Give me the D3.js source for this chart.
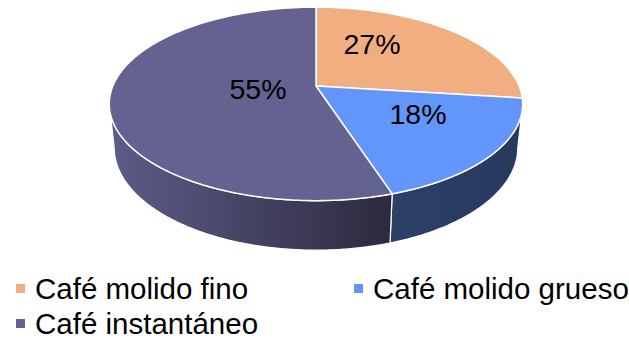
<!DOCTYPE html>
<html><head><meta charset="utf-8">
<script src="https://cdn.jsdelivr.net/npm/d3@7"></script>
<style>
html,body{margin:0;padding:0;background:#fff;}
svg{display:block;}
text{font-family:"Liberation Sans",Arial,sans-serif;fill:#000;}
</style></head>
<body>
<svg id="chart" width="629" height="340"></svg>
<script>
// ---- data ----
const categories = ["Café molido fino", "Café molido grueso", "Café instantáneo"];
const values = [27, 18, 55];
const labels = ["27%", "18%", "55%"];
const topColors = ["#F1AE80", "#6296FA", "#636291"];
const sideColorsLight = ["#C48A63", "#2C4068", "#5E5C89"];
const sideColorsDark = ["#9E6E4E", "#28395F", "#2C2A3E"];

// ---- layout ----
const W = 629, H = 340;
const svg = d3.select("#chart");
const cx = 316, cy = 86;
const elev = Math.asin(0.46);
const sn = Math.sin(elev), cs = Math.cos(elev);
const Dist = 4.8, focal = 975, thick = 0.245;

function proj(a, r, yw) {
  const x = r * Math.sin(a), z = -r * Math.cos(a), y = yw;
  const depth = Dist - y * sn - z * cs;
  return [cx + focal * x / depth, cy + focal * (z * sn - y * cs) / depth];
}

const pie = d3.pie().sort(null).value(d => d)(values);
const aL = Math.acos(-cs / Dist);           // right silhouette
const aR = 2 * Math.PI - aL;                // left silhouette

function arcPts(a0, a1, yw) {
  const n = Math.max(2, Math.ceil(Math.abs(a1 - a0) / 0.01));
  return d3.range(n + 1).map(i => proj(a0 + (a1 - a0) * i / n, 1, yw));
}
const line = d3.line();

const defs = svg.append("defs");

// sides
pie.forEach((p, i) => {
  const a0 = Math.max(p.startAngle, aL), a1 = Math.min(p.endAngle, aR);
  if (a1 <= a0) return;
  const top = arcPts(a0, a1, 0), bot = arcPts(a1, a0, -thick);
  const pts = top.concat(bot);
  const xs = pts.map(d => d[0]);
  const gid = "sg" + i;
  const g = defs.append("linearGradient").attr("id", gid)
    .attr("gradientUnits", "userSpaceOnUse")
    .attr("x1", d3.min(xs)).attr("x2", d3.max(xs)).attr("y1", 0).attr("y2", 0);
  g.append("stop").attr("offset", "0%").attr("stop-color", sideColorsLight[i]);
  g.append("stop").attr("offset", "100%").attr("stop-color", sideColorsDark[i]);
  svg.append("path").attr("d", line(pts) + "Z")
    .attr("fill", `url(#${gid})`).attr("stroke", "#fff").attr("stroke-width", 1.2)
    .attr("stroke-linejoin", "round");
});

// tops
pie.forEach((p, i) => {
  const c = proj(0, 0, 0);
  const pts = [c].concat(arcPts(p.startAngle, p.endAngle, 0));
  svg.append("path").attr("d", line(pts) + "Z")
    .attr("fill", topColors[i]).attr("stroke", "#fff").attr("stroke-width", 1.5)
    .attr("stroke-linejoin", "round");
});

// labels (placement as in the original layout)
const labelPos = [[372, 54], [418, 124], [258, 99]];
pie.forEach((p, i) => {
  svg.append("text").attr("x", labelPos[i][0]).attr("y", labelPos[i][1])
    .attr("text-anchor", "middle").attr("font-size", 28.5).text(labels[i]);
});

// legend
const legPos = [[16, 299], [354, 299], [16, 334]];
categories.forEach((c, i) => {
  const g = svg.append("g").attr("transform", `translate(${legPos[i][0]},${legPos[i][1]})`);
  g.append("rect").attr("x", 0).attr("y", -15).attr("width", 9).attr("height", 9).attr("fill", topColors[i]);
  g.append("text").attr("x", 19).attr("y", 0).attr("font-size", 29.5).text(c);
});
</script>
</body></html>
